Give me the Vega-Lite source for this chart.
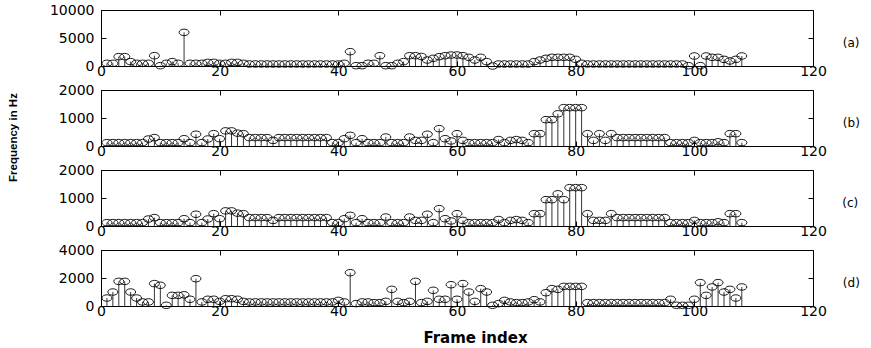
{
  "$schema": "https://vega.github.io/schema/vega-lite/v6.json",
  "padding": {"left": 7, "top": 2, "right": 5, "bottom": 5},
  "background": "white",
  "datasets": {
    "a": [
      {"i":1,"v":480},{"i":2,"v":480},{"i":3,"v":1670},{"i":4,"v":1670},{"i":5,"v":780},{"i":6,"v":480},{"i":7,"v":480},{"i":8,"v":480},{"i":9,"v":1840},{"i":10,"v":60},
      {"i":11,"v":480},{"i":12,"v":780},{"i":13,"v":480},{"i":14,"v":6000},{"i":15,"v":480},{"i":16,"v":480},{"i":17,"v":480},{"i":18,"v":650},{"i":19,"v":650},{"i":20,"v":480},
      {"i":21,"v":480},{"i":22,"v":650},{"i":23,"v":650},{"i":24,"v":480},{"i":25,"v":360},{"i":26,"v":360},{"i":27,"v":360},{"i":28,"v":360},{"i":29,"v":360},{"i":30,"v":360},
      {"i":31,"v":360},{"i":32,"v":360},{"i":33,"v":360},{"i":34,"v":360},{"i":35,"v":360},{"i":36,"v":360},{"i":37,"v":360},{"i":38,"v":360},{"i":39,"v":360},{"i":40,"v":360},
      {"i":41,"v":480},{"i":42,"v":2560},{"i":43,"v":60},{"i":44,"v":60},{"i":45,"v":480},{"i":46,"v":480},{"i":47,"v":1840},{"i":48,"v":60},{"i":49,"v":60},{"i":50,"v":480},
      {"i":51,"v":780},{"i":52,"v":1840},{"i":53,"v":1840},{"i":54,"v":1700},{"i":55,"v":1070},{"i":56,"v":1370},{"i":57,"v":1670},{"i":58,"v":1840},{"i":59,"v":1960},{"i":60,"v":1960},
      {"i":61,"v":1840},{"i":62,"v":1550},{"i":63,"v":1070},{"i":64,"v":1550},{"i":65,"v":780},{"i":66,"v":0},{"i":67,"v":360},{"i":68,"v":360},{"i":69,"v":360},{"i":70,"v":360},
      {"i":71,"v":360},{"i":72,"v":360},{"i":73,"v":780},{"i":74,"v":1070},{"i":75,"v":1370},{"i":76,"v":1550},{"i":77,"v":1550},{"i":78,"v":1550},{"i":79,"v":1550},{"i":80,"v":1190},
      {"i":81,"v":480},{"i":82,"v":360},{"i":83,"v":360},{"i":84,"v":360},{"i":85,"v":360},{"i":86,"v":360},{"i":87,"v":360},{"i":88,"v":360},{"i":89,"v":360},{"i":90,"v":360},
      {"i":91,"v":360},{"i":92,"v":360},{"i":93,"v":360},{"i":94,"v":360},{"i":95,"v":360},{"i":96,"v":360},{"i":97,"v":360},{"i":98,"v":360},{"i":99,"v":60},{"i":100,"v":1790},
      {"i":101,"v":60},{"i":102,"v":1790},{"i":103,"v":1550},{"i":104,"v":1550},{"i":105,"v":1190},{"i":106,"v":900},{"i":107,"v":1190},{"i":108,"v":1790}
    ],
    "b": [
      {"i":1,"v":120},{"i":2,"v":120},{"i":3,"v":120},{"i":4,"v":120},{"i":5,"v":120},{"i":6,"v":120},{"i":7,"v":120},{"i":8,"v":250},{"i":9,"v":300},{"i":10,"v":120},
      {"i":11,"v":120},{"i":12,"v":120},{"i":13,"v":120},{"i":14,"v":260},{"i":15,"v":120},{"i":16,"v":420},{"i":17,"v":120},{"i":18,"v":250},{"i":19,"v":440},{"i":20,"v":260},
      {"i":21,"v":540},{"i":22,"v":540},{"i":23,"v":460},{"i":24,"v":440},{"i":25,"v":300},{"i":26,"v":300},{"i":27,"v":300},{"i":28,"v":300},{"i":29,"v":200},{"i":30,"v":300},
      {"i":31,"v":300},{"i":32,"v":300},{"i":33,"v":300},{"i":34,"v":300},{"i":35,"v":300},{"i":36,"v":300},{"i":37,"v":300},{"i":38,"v":300},{"i":39,"v":120},{"i":40,"v":120},
      {"i":41,"v":260},{"i":42,"v":380},{"i":43,"v":120},{"i":44,"v":260},{"i":45,"v":120},{"i":46,"v":120},{"i":47,"v":120},{"i":48,"v":320},{"i":49,"v":120},{"i":50,"v":120},
      {"i":51,"v":120},{"i":52,"v":320},{"i":53,"v":200},{"i":54,"v":200},{"i":55,"v":420},{"i":56,"v":120},{"i":57,"v":620},{"i":58,"v":260},{"i":59,"v":180},{"i":60,"v":440},
      {"i":61,"v":200},{"i":62,"v":120},{"i":63,"v":120},{"i":64,"v":120},{"i":65,"v":120},{"i":66,"v":120},{"i":67,"v":230},{"i":68,"v":120},{"i":69,"v":200},{"i":70,"v":230},
      {"i":71,"v":200},{"i":72,"v":120},{"i":73,"v":440},{"i":74,"v":440},{"i":75,"v":940},{"i":76,"v":940},{"i":77,"v":1150},{"i":78,"v":1370},{"i":79,"v":1370},{"i":80,"v":1370},
      {"i":81,"v":1370},{"i":82,"v":440},{"i":83,"v":200},{"i":84,"v":440},{"i":85,"v":200},{"i":86,"v":440},{"i":87,"v":300},{"i":88,"v":300},{"i":89,"v":300},{"i":90,"v":300},
      {"i":91,"v":300},{"i":92,"v":300},{"i":93,"v":300},{"i":94,"v":300},{"i":95,"v":300},{"i":96,"v":120},{"i":97,"v":120},{"i":98,"v":120},{"i":99,"v":120},{"i":100,"v":200},
      {"i":101,"v":120},{"i":102,"v":120},{"i":103,"v":120},{"i":104,"v":150},{"i":105,"v":120},{"i":106,"v":440},{"i":107,"v":440},{"i":108,"v":120}
    ],
    "c": [
      {"i":1,"v":120},{"i":2,"v":120},{"i":3,"v":120},{"i":4,"v":120},{"i":5,"v":120},{"i":6,"v":120},{"i":7,"v":120},{"i":8,"v":250},{"i":9,"v":300},{"i":10,"v":120},
      {"i":11,"v":120},{"i":12,"v":120},{"i":13,"v":120},{"i":14,"v":260},{"i":15,"v":120},{"i":16,"v":420},{"i":17,"v":120},{"i":18,"v":250},{"i":19,"v":440},{"i":20,"v":260},
      {"i":21,"v":540},{"i":22,"v":540},{"i":23,"v":460},{"i":24,"v":440},{"i":25,"v":300},{"i":26,"v":300},{"i":27,"v":300},{"i":28,"v":300},{"i":29,"v":200},{"i":30,"v":300},
      {"i":31,"v":300},{"i":32,"v":300},{"i":33,"v":300},{"i":34,"v":300},{"i":35,"v":300},{"i":36,"v":300},{"i":37,"v":300},{"i":38,"v":300},{"i":39,"v":120},{"i":40,"v":120},
      {"i":41,"v":260},{"i":42,"v":380},{"i":43,"v":120},{"i":44,"v":260},{"i":45,"v":120},{"i":46,"v":120},{"i":47,"v":120},{"i":48,"v":320},{"i":49,"v":120},{"i":50,"v":120},
      {"i":51,"v":120},{"i":52,"v":320},{"i":53,"v":200},{"i":54,"v":200},{"i":55,"v":420},{"i":56,"v":120},{"i":57,"v":620},{"i":58,"v":260},{"i":59,"v":180},{"i":60,"v":440},
      {"i":61,"v":200},{"i":62,"v":120},{"i":63,"v":120},{"i":64,"v":120},{"i":65,"v":120},{"i":66,"v":120},{"i":67,"v":230},{"i":68,"v":120},{"i":69,"v":200},{"i":70,"v":230},
      {"i":71,"v":200},{"i":72,"v":120},{"i":73,"v":440},{"i":74,"v":440},{"i":75,"v":940},{"i":76,"v":940},{"i":77,"v":1150},{"i":78,"v":940},{"i":79,"v":1370},{"i":80,"v":1370},
      {"i":81,"v":1370},{"i":82,"v":440},{"i":83,"v":200},{"i":84,"v":200},{"i":85,"v":200},{"i":86,"v":440},{"i":87,"v":300},{"i":88,"v":300},{"i":89,"v":300},{"i":90,"v":300},
      {"i":91,"v":300},{"i":92,"v":300},{"i":93,"v":300},{"i":94,"v":300},{"i":95,"v":300},{"i":96,"v":120},{"i":97,"v":120},{"i":98,"v":120},{"i":99,"v":120},{"i":100,"v":200},
      {"i":101,"v":120},{"i":102,"v":120},{"i":103,"v":120},{"i":104,"v":150},{"i":105,"v":120},{"i":106,"v":440},{"i":107,"v":440},{"i":108,"v":120}
    ],
    "d": [
      {"i":1,"v":570},{"i":2,"v":1000},{"i":3,"v":1760},{"i":4,"v":1760},{"i":5,"v":1000},{"i":6,"v":570},{"i":7,"v":290},{"i":8,"v":290},{"i":9,"v":1600},{"i":10,"v":1480},
      {"i":11,"v":50},{"i":12,"v":760},{"i":13,"v":760},{"i":14,"v":800},{"i":15,"v":480},{"i":16,"v":1950},{"i":17,"v":290},{"i":18,"v":480},{"i":19,"v":480},{"i":20,"v":330},
      {"i":21,"v":520},{"i":22,"v":520},{"i":23,"v":480},{"i":24,"v":330},{"i":25,"v":290},{"i":26,"v":290},{"i":27,"v":290},{"i":28,"v":290},{"i":29,"v":290},{"i":30,"v":290},
      {"i":31,"v":290},{"i":32,"v":290},{"i":33,"v":290},{"i":34,"v":290},{"i":35,"v":290},{"i":36,"v":290},{"i":37,"v":290},{"i":38,"v":290},{"i":39,"v":290},{"i":40,"v":400},
      {"i":41,"v":290},{"i":42,"v":2380},{"i":43,"v":170},{"i":44,"v":290},{"i":45,"v":290},{"i":46,"v":240},{"i":47,"v":240},{"i":48,"v":330},{"i":49,"v":1190},{"i":50,"v":330},
      {"i":51,"v":240},{"i":52,"v":330},{"i":53,"v":1760},{"i":54,"v":240},{"i":55,"v":330},{"i":56,"v":1120},{"i":57,"v":480},{"i":58,"v":480},{"i":59,"v":1520},{"i":60,"v":480},
      {"i":61,"v":1600},{"i":62,"v":1000},{"i":63,"v":330},{"i":64,"v":1240},{"i":65,"v":1000},{"i":66,"v":50},{"i":67,"v":170},{"i":68,"v":400},{"i":69,"v":290},{"i":70,"v":240},
      {"i":71,"v":240},{"i":72,"v":290},{"i":73,"v":450},{"i":74,"v":290},{"i":75,"v":950},{"i":76,"v":1240},{"i":77,"v":1190},{"i":78,"v":1400},{"i":79,"v":1400},{"i":80,"v":1400},
      {"i":81,"v":1400},{"i":82,"v":240},{"i":83,"v":240},{"i":84,"v":240},{"i":85,"v":240},{"i":86,"v":240},{"i":87,"v":240},{"i":88,"v":240},{"i":89,"v":240},{"i":90,"v":240},
      {"i":91,"v":240},{"i":92,"v":240},{"i":93,"v":240},{"i":94,"v":240},{"i":95,"v":240},{"i":96,"v":480},{"i":97,"v":50},{"i":98,"v":50},{"i":99,"v":50},{"i":100,"v":480},
      {"i":101,"v":1670},{"i":102,"v":760},{"i":103,"v":1360},{"i":104,"v":1670},{"i":105,"v":1000},{"i":106,"v":1190},{"i":107,"v":570},{"i":108,"v":1360}
    ]
  },
  "spacing": 24,
  "bounds": "flush",
  "vconcat": [
    {
      "width": 712, "height": 56,
      "data": {"name": "a"},
      "title": {"text": "(a)", "orient": "right", "angle": 0, "offset": 8, "anchor": "middle"},
      "layer": [
        {"mark": {"type": "rule", "color": "black", "strokeWidth": 0.8},
         "encoding": {
           "x": {"field": "i", "type": "quantitative", "scale": {"domain": [0, 120], "nice": false}, "axis": {"orient": "bottom", "values": [0,20,40,60,80,100,120], "title": null}},
           "y": {"field": "v", "type": "quantitative", "scale": {"domain": [0, 10000], "nice": false}, "axis": {"orient": "left", "values": [0,5000,10000], "title": null}},
           "y2": {"datum": 0}
         }},
        {"mark": {"type": "point", "shape": "M -1 0 A 1 0.65 0 1 0 1 0 A 1 0.65 0 1 0 -1 0 Z", "filled": false, "stroke": "black", "strokeWidth": 0.9, "size": 100, "opacity": 1},
         "encoding": {
           "x": {"field": "i", "type": "quantitative", "axis": {"orient": "top", "values": [0,20,40,60,80,100,120], "labels": false, "title": null}},
           "y": {"field": "v", "type": "quantitative", "axis": {"orient": "right", "values": [0,5000,10000], "labels": false, "title": null}}
         }}
      ],
      "resolve": {"axis": {"x": "independent", "y": "independent"}}
    },
    {
      "width": 712, "height": 56,
      "data": {"name": "b"},
      "title": {"text": "(b)", "orient": "right", "angle": 0, "offset": 8, "anchor": "middle"},
      "layer": [
        {"mark": {"type": "rule", "color": "black", "strokeWidth": 0.8},
         "encoding": {
           "x": {"field": "i", "type": "quantitative", "scale": {"domain": [0, 120], "nice": false}, "axis": {"orient": "bottom", "values": [0,20,40,60,80,100,120], "title": null}},
           "y": {"field": "v", "type": "quantitative", "scale": {"domain": [0, 2000], "nice": false}, "axis": {"orient": "left", "values": [0,1000,2000], "title": "Frequency in Hz", "titleFont": "Liberation Sans", "titleFontWeight": "bold", "titleFontSize": 11.5, "titleColor": "black", "titleX": -87.5, "titleY": 47, "titleAngle": -90, "titleBaseline": "middle", "titleAlign": "center"}},
           "y2": {"datum": 0}
         }},
        {"mark": {"type": "point", "shape": "M -1 0 A 1 0.65 0 1 0 1 0 A 1 0.65 0 1 0 -1 0 Z", "filled": false, "stroke": "black", "strokeWidth": 0.9, "size": 100, "opacity": 1},
         "encoding": {
           "x": {"field": "i", "type": "quantitative", "axis": {"orient": "top", "values": [0,20,40,60,80,100,120], "labels": false, "title": null}},
           "y": {"field": "v", "type": "quantitative", "axis": {"orient": "right", "values": [0,1000,2000], "labels": false, "title": null}}
         }}
      ],
      "resolve": {"axis": {"x": "independent", "y": "independent"}}
    },
    {
      "width": 712, "height": 56,
      "data": {"name": "c"},
      "title": {"text": "(c)", "orient": "right", "angle": 0, "offset": 8, "anchor": "middle"},
      "layer": [
        {"mark": {"type": "rule", "color": "black", "strokeWidth": 0.8},
         "encoding": {
           "x": {"field": "i", "type": "quantitative", "scale": {"domain": [0, 120], "nice": false}, "axis": {"orient": "bottom", "values": [0,20,40,60,80,100,120], "title": null}},
           "y": {"field": "v", "type": "quantitative", "scale": {"domain": [0, 2000], "nice": false}, "axis": {"orient": "left", "values": [0,1000,2000], "title": null}},
           "y2": {"datum": 0}
         }},
        {"mark": {"type": "point", "shape": "M -1 0 A 1 0.65 0 1 0 1 0 A 1 0.65 0 1 0 -1 0 Z", "filled": false, "stroke": "black", "strokeWidth": 0.9, "size": 100, "opacity": 1},
         "encoding": {
           "x": {"field": "i", "type": "quantitative", "axis": {"orient": "top", "values": [0,20,40,60,80,100,120], "labels": false, "title": null}},
           "y": {"field": "v", "type": "quantitative", "axis": {"orient": "right", "values": [0,1000,2000], "labels": false, "title": null}}
         }}
      ],
      "resolve": {"axis": {"x": "independent", "y": "independent"}}
    },
    {
      "width": 712, "height": 56,
      "data": {"name": "d"},
      "title": {"text": "(d)", "orient": "right", "angle": 0, "offset": 8, "anchor": "middle"},
      "layer": [
        {"mark": {"type": "rule", "color": "black", "strokeWidth": 0.8},
         "encoding": {
           "x": {"field": "i", "type": "quantitative", "scale": {"domain": [0, 120], "nice": false}, "axis": {"orient": "bottom", "values": [0,20,40,60,80,100,120], "title": "Frame index", "titleFont": "DejaVu Sans", "titleFontWeight": "bold", "titleFontSize": 15, "titleColor": "black", "titleX": 374, "titleY": 31, "titleBaseline": "middle", "titleAlign": "center"}},
           "y": {"field": "v", "type": "quantitative", "scale": {"domain": [0, 4000], "nice": false}, "axis": {"orient": "left", "values": [0,2000,4000], "title": null}},
           "y2": {"datum": 0}
         }},
        {"mark": {"type": "point", "shape": "M -1 0 A 1 0.65 0 1 0 1 0 A 1 0.65 0 1 0 -1 0 Z", "filled": false, "stroke": "black", "strokeWidth": 0.9, "size": 100, "opacity": 1},
         "encoding": {
           "x": {"field": "i", "type": "quantitative", "axis": {"orient": "top", "values": [0,20,40,60,80,100,120], "labels": false, "title": null}},
           "y": {"field": "v", "type": "quantitative", "axis": {"orient": "right", "values": [0,2000,4000], "labels": false, "title": null}}
         }}
      ],
      "resolve": {"axis": {"x": "independent", "y": "independent"}}
    }
  ],
  "config": {
    "view": {"stroke": "black", "strokeWidth": 1},
    "axis": {"domain": false, "grid": false, "ticks": true, "tickSize": -5, "tickColor": "black", "tickWidth": 1, "labelFont": "DejaVu Sans", "labelFontSize": 14, "labelColor": "black", "labelPadding": 3, "labelAngle": 0, "labelFlush": false, "labelOverlap": false, "format": "d"},
    "axisY": {"labelPadding": 12},
    "title": {"font": "DejaVu Sans", "fontSize": 12, "fontWeight": "normal", "color": "black"}
  }
}
